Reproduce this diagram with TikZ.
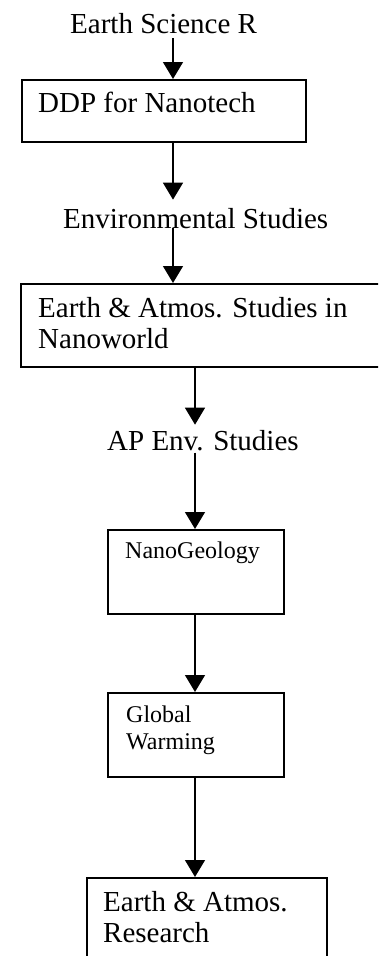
\documentclass[tikz,border=0pt]{standalone}
\usepackage{fontspec}
\setmainfont{Liberation Serif}
\usetikzlibrary{arrows.meta,calc}

\tikzset{
  box/.style={draw, line width=1.6pt, rectangle, inner sep=0pt, anchor=north west},
  txt/.style={inner sep=0pt, anchor=base west, font=\fontsize{29}{31}\selectfont, align=left},
  smalltxt/.style={inner sep=0pt, anchor=base west, font=\fontsize{24}{27}\selectfont, align=left},
  flow/.style={line width=1.5pt, -{Triangle[width=20pt,length=17pt]}}
}

\begin{document}
\begin{tikzpicture}[x=1pt,y=1pt]
  \useasboundingbox[clip] (0,0) rectangle (378,-956);
  \fill[white] (0,0) rectangle (378,-956);

  % vertical guides for the connectors
  \coordinate (xa) at (173,0);
  \coordinate (xb) at (195,0);

  % boxes
  \node[box, minimum width=284pt, minimum height=62pt] (b1) at (21,-79) {};
  \node[box, minimum width=380pt, minimum height=83pt] (b2) at (20,-283) {};
  \node[box, minimum width=176pt, minimum height=84pt] (b3) at (107,-529) {};
  \node[box, minimum width=176pt, minimum height=84pt] (b4) at (107,-692) {};
  \node[box, minimum width=240pt, minimum height=130pt] (b5) at (86,-877) {};

  % free labels between boxes
  \node[txt] (t1) at (70,-33) {Earth Science R};
  \node[txt] (t2) at (63,-228) {Environmental Studies};
  \node[txt] (t3) at (107,-450) {AP Env. Studies};

  % box captions (multi-line ones are placed by their last baseline)
  \node[txt] (l1) at (38,-112) {DDP for Nanotech};
  \node[txt] (l2) at (38,-348) {Earth \& Atmos. Studies in\\Nanoworld};
  \node[smalltxt] (l3) at (125,-558) {NanoGeology};
  \node[smalltxt] (l4) at (126,-749) {Global\\Warming};
  \node[txt] (l5) at (103,-942) {Earth \& Atmos.\\Research};

  % connectors
  \draw[flow, shorten <=5pt] (t1.south -| xa) -- (b1.north -| xa);
  \draw[flow, shorten >=8pt] (b1.south -| xa) -- (t2.north -| xa);
  \draw[flow] (t2.south -| xa) -- (b2.north -| xa);
  \draw[flow, shorten >=5pt] (b2.south -| xb) -- (t3.north -| xb);
  \draw[flow, shorten <=2pt] (t3.south -| xb) -- (b3.north -| xb);
  \draw[flow] (b3.south -| xb) -- (b4.north -| xb);
  \draw[flow] (b4.south -| xb) -- (b5.north -| xb);
\end{tikzpicture}
\end{document}
